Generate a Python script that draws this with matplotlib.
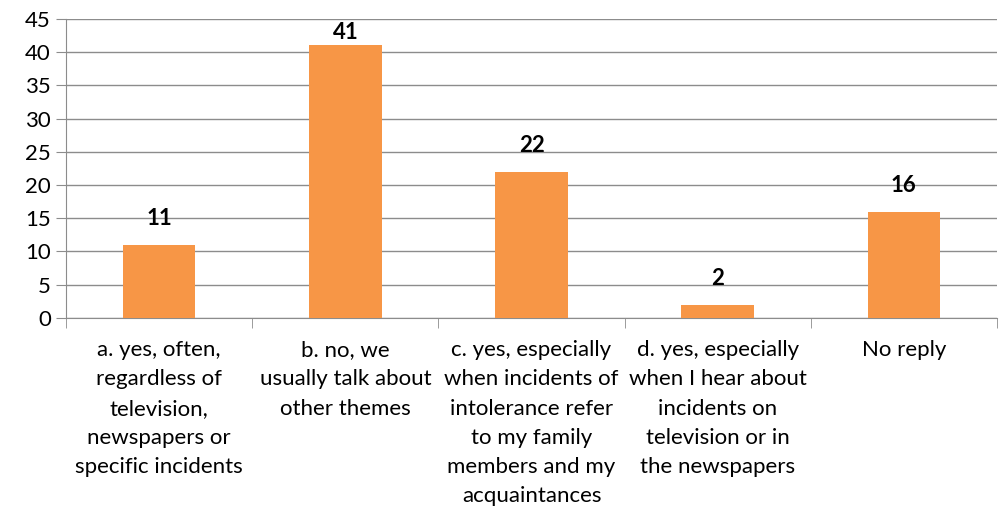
# %% IMPORT LIBRARIES
import matplotlib
matplotlib.use('Agg')
import matplotlib.pyplot as plt
import numpy as np

# %% DATA
categories = [
    'a. yes, often,\nregardless of\ntelevision,\nnewspapers or\nspecific incidents',
    'b. no, we\nusually talk about\nother themes',
    'c. yes, especially\nwhen incidents of\nintolerance refer\nto my family\nmembers and my\nacquaintances',
    'd. yes, especially\nwhen I hear about\nincidents on\ntelevision or in\nthe newspapers',
    'No reply',
]
values = [11, 41, 22, 2, 16]
y_ticks = [0, 5, 10, 15, 20, 25, 30, 35, 40, 45]

# %% PLOT
plt.rcParams['font.family'] = ['Lato', 'DejaVu Sans']
fig = plt.figure(figsize=(10.01, 5.11), dpi=100)
ax = fig.add_axes([0.066, 0.378, 0.930, 0.585])

grey = '#8c8c8c'
x = np.arange(len(values))
ax.bar(x, values, width=0.39, color='#F79646', zorder=3)

# value labels above each bar (kept inside the plot area at the top)
for xi, v in zip(x, values):
    ax.text(xi, min(v + 2.3, 41.3), str(v), ha='center', va='bottom',
            fontsize=16, fontweight='bold', color='black')

ax.set_xlim(-0.5, len(values) - 0.5)
ax.set_ylim(0, 45)
ax.set_yticks(y_ticks)
ax.yaxis.grid(True, color=grey, linewidth=1, zorder=0)
ax.tick_params(axis='y', length=7, color=grey, labelsize=16, pad=4)

# category labels at bar centres, tick marks at category boundaries
ax.set_xticks(x)
ax.set_xticklabels(categories, fontsize=16, linespacing=1.58)
ax.tick_params(axis='x', which='major', length=0, pad=16)
ax.set_xticks(np.arange(-0.5, len(values)), minor=True)
ax.tick_params(axis='x', which='minor', length=7, color=grey)

for side in ['top', 'right']:
    ax.spines[side].set_visible(False)
ax.spines['left'].set_color(grey)
ax.spines['bottom'].set_color(grey)

fig.savefig('out.png', dpi=100)
